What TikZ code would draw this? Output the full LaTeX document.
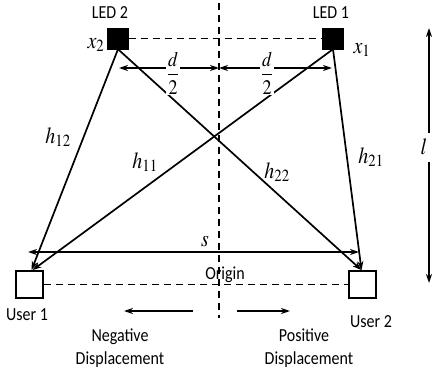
\documentclass[tikz,border=0pt]{standalone}
\usepackage[no-math]{fontspec}
\usepackage{mathptmx}
\usepackage{graphicx}
\setmainfont{Carlito}
\usetikzlibrary{arrows.meta}
\newcommand{\vst}[1]{\scalebox{1}[1.15]{#1}}
\tikzset{
  conn/.style={line width=1.7pt,-{Stealth[length=9pt,width=6pt]}},
  dbl/.style={line width=1.7pt,{Stealth[length=9pt,width=6pt]}-{Stealth[length=9pt,width=6pt]}},
  dsh/.style={line width=1.6pt,dash pattern=on 7pt off 5pt},
  led/.style={draw,fill=black,minimum size=21pt,inner sep=0pt},
  usr/.style={draw,line width=1.7pt,fill=white,minimum size=27pt,inner sep=0pt},
  lbl/.style={font=\fontsize{16}{18}\selectfont,inner sep=1pt},
  mth/.style={font=\fontsize{20}{22}\selectfont,inner sep=1pt}
}
\begin{document}
\begin{tikzpicture}[x=1pt,y=-1pt]
\useasboundingbox (0,0) rectangle (434,374);
% vertical axis
\coordinate (vt) at (219,3);
\coordinate (vb) at (219,318);
\draw[dsh] (vt) -- (vb);
% LEDs
\node[led] (led2) at (118,38.5) {};
\node[led] (led1) at (333,38.5) {};
\node[lbl] (t2) at (110,13) {\vst{LED 2}};
\node[lbl] (t1) at (331,13) {\vst{LED 1}};
\node[mth] (x2) at (96,45) {\vst{$x_{\scriptstyle 2}$}};
\node[mth] (x1) at (362,50) {\vst{$x_{\scriptstyle 1}$}};
\draw[dsh] (led2.east) -- (led1.west);
% users
\node[usr] (u1) at (29.5,284.5) {};
\node[usr] (u2) at (362.5,284.5) {};
\node[lbl] (tu1) at (27,315) {\vst{User 1}};
\node[lbl] (tu2) at (371,322) {\vst{User 2}};
\draw[dsh] (u1.east) -- (u2.west);
\node[lbl] (org) at (225,275) {\vst{Origin}};
% channels
\draw[conn] (led2.south) -- ([xshift=2pt]u1.north);
\draw[conn] (led1.south) -- ([xshift=3pt]u1.north);
\draw[conn] (led2.south) -- ([xshift=-1pt]u2.north);
\draw[conn] (led1.south) -- ([xshift=-1pt]u2.north);
\node[mth] (h12) at (58,137) {\vst{$h_{12}$}};
\node[mth] (h11) at (145,162) {\vst{$h_{11}$}};
\node[mth] (h22) at (277,172) {\vst{$h_{22}$}};
\node[mth] (h21) at (371,157) {\vst{$h_{21}$}};
% d/2
\coordinate (dl) at (119,68);
\coordinate (dm) at (219,68);
\coordinate (dr) at (332,68);
\draw[dbl] (dl) -- (dm);
\draw[dbl] (dm) -- (dr);
\node[fill=white,inner sep=0.5pt,font=\fontsize{18}{20}\selectfont] (dh2) at (173,73) {\vst{$\displaystyle\frac{d}{2}$}};
\node[fill=white,inner sep=0.5pt,font=\fontsize{18}{20}\selectfont] (dh1) at (267,73) {\vst{$\displaystyle\frac{d}{2}$}};
% s
\coordinate (sl) at (28,252);
\coordinate (sr) at (359,252);
\draw[dbl] (sl) -- (sr);
\node[mth] (s) at (205,242) {\vst{$s$}};
% l
\node[mth] (l) at (424,147) {\vst{$l$}};
\coordinate (lt) at (429,28);
\coordinate (lb) at (429,283);
\coordinate (lt0) at (429,133);
\coordinate (lb0) at (429,162);
\draw[conn] (lt0) -- (lt);
\draw[conn] (lb0) -- (lb);
% displacement
\coordinate (na) at (193,311);
\coordinate (nb) at (124,311);
\coordinate (pa) at (237,311);
\coordinate (pb) at (290,311);
\draw[conn] (na) -- (nb);
\draw[conn] (pa) -- (pb);
\node[lbl] (neg) at (120,337) {\vst{Negative}};
\node[lbl] (negd) at (120,360) {\vst{Displacement}};
\node[lbl] (pos) at (304,335) {\vst{Positive}};
\node[lbl] (posd) at (309,360) {\vst{Displacement}};
\end{tikzpicture}
\end{document}
